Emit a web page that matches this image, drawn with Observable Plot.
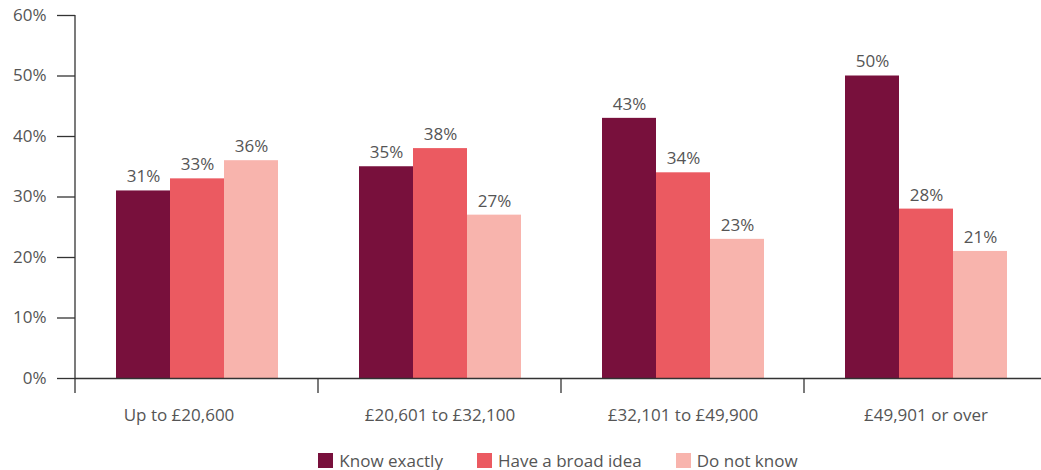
<!DOCTYPE html>
<html>
<head>
<meta charset="utf-8">
<script src="https://cdn.jsdelivr.net/npm/d3@7"></script>
<script src="https://cdn.jsdelivr.net/npm/@observablehq/plot@0.6"></script>
<style>
  html, body { margin: 0; padding: 0; background: #fff; }
  body { width: 1041px; height: 470px; overflow: hidden; font-family: "Open Sans", "Noto Sans", sans-serif; }
  #chart svg { display: block; }
  .legend { display: flex; justify-content: center; align-items: center; padding-left: 75px; margin-top: 20px; height: 20px; font-size: 17px; color: #555; }
  .legend .item { display: flex; align-items: center; margin: 0 17px; }
  .legend .sw { width: 15px; height: 15px; margin-right: 6px; }
</style>
</head>
<body>
<div id="chart"></div>
<script>
const groups = ["Up to £20,600", "£20,601 to £32,100", "£32,101 to £49,900", "£49,901 or over"];
const series = ["Know exactly", "Have a broad idea", "Do not know"];
const knowExactly = [31, 35, 43, 50];
const broadIdea = [33, 38, 34, 28];
const doNotKnow = [36, 27, 23, 21];
const colors = ["#78103c", "#eb5a61", "#f8b4ad"];
const yTicks = [0, 10, 20, 30, 40, 50, 60];

const seriesValues = [knowExactly, broadIdea, doNotKnow];
const data = groups.flatMap((g, i) => series.map((s, j) => ({ group: g, series: s, value: seriesValues[j][i] })));

const font = "'Open Sans', 'Noto Sans', sans-serif";

const chart = Plot.plot({
  width: 1041,
  height: 430,
  marginTop: 15,
  marginLeft: 75,
  marginRight: -6,
  marginBottom: 52,
  style: { fontFamily: font, fontSize: "17px", color: "#555", background: "white" },
  fx: { domain: groups, padding: 0, label: null, axis: null },
  x: { domain: series, paddingInner: 0, paddingOuter: 0.75, axis: null },
  y: { domain: [0, 60], label: null },
  color: { domain: series, range: colors },
  marks: [
    Plot.barY(data, { fx: "group", x: "series", y: "value", fill: "series" }),
    Plot.text(data, { fx: "group", x: "series", y: "value", text: d => d.value + "%", dy: -14, fill: "#555", fontSize: 17 }),
    Plot.ruleY([0], { stroke: "#333", strokeWidth: 1.3 }),
    Plot.axisY(yTicks, { tickSize: 18, tickPadding: 11, tickFormat: d => d + "%", stroke: "#333", strokeWidth: 1.3, fill: "#555", fontSize: 17, label: null }),
    Plot.axisFx({ anchor: "bottom", tickSize: 0, tickPadding: 30, label: null, fill: "#555", fontSize: 17 })
  ]
});
document.getElementById("chart").appendChild(chart);

// y-axis line and group boundary ticks, positioned through Plot's own scales
const yS = chart.scale("y");
const fxS = chart.scale("fx");
const svg = d3.select(chart);
const y0 = yS.apply(0);
const yTop = yS.apply(yTicks[yTicks.length - 1]);
const g = svg.append("g").attr("stroke", "#333").attr("stroke-width", 1.3);
g.append("line")
  .attr("x1", fxS.apply(groups[0])).attr("x2", fxS.apply(groups[0]))
  .attr("y1", yTop).attr("y2", y0 + 15);
groups.slice(1).forEach(gr => {
  const x = fxS.apply(gr);
  g.append("line").attr("x1", x).attr("x2", x).attr("y1", y0).attr("y2", y0 + 15);
});

// first category label sits a little left of its group centre in the reference
svg.selectAll('g[aria-label="fx-axis tick label"] text')
  .filter(function () { return this.textContent === groups[0]; })
  .attr("dx", -18);

const legend = d3.select("body").append("div").attr("class", "legend");
series.forEach((s, i) => {
  const item = legend.append("div").attr("class", "item");
  item.append("div").attr("class", "sw").style("background", colors[i]);
  item.append("span").text(s);
});
</script>
</body>
</html>
